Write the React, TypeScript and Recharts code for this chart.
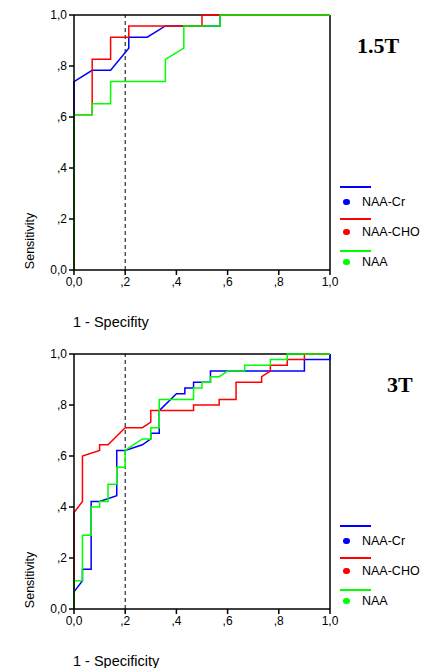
import React from "react";
import { LineChart, Line, XAxis, YAxis, ReferenceLine } from "recharts";

// 1.5T panel (1 - specificity / sensitivity)
const cr15X = [0, 0, 0.071, 0.143, 0.214, 0.214, 0.286, 0.357, 0.571, 0.571, 1];
const cr15Y = [0, 0.739, 0.783, 0.783, 0.87, 0.913, 0.913, 0.957, 0.957, 1, 1];
const cho15X = [0, 0, 0.071, 0.071, 0.143, 0.143, 0.214, 0.214, 0.5, 0.5, 1];
const cho15Y = [0, 0.609, 0.609, 0.826, 0.826, 0.913, 0.913, 0.957, 0.957, 1, 1];
const naa15X = [0, 0, 0.071, 0.071, 0.143, 0.143, 0.357, 0.357, 0.429, 0.429, 0.571, 0.571, 1];
const naa15Y = [0, 0.609, 0.609, 0.652, 0.652, 0.739, 0.739, 0.826, 0.87, 0.957, 0.957, 1, 1];

// 3T panel
const cr3X = [0, 0, 0.033, 0.033, 0.067, 0.067, 0.1, 0.167, 0.167, 0.2, 0.267, 0.3, 0.3, 0.333, 0.333, 0.4, 0.433, 0.433, 0.467, 0.467, 0.533, 0.533, 0.9, 0.9, 1, 1];
const cr3Y = [0, 0.067, 0.111, 0.156, 0.156, 0.422, 0.422, 0.444, 0.622, 0.622, 0.644, 0.667, 0.689, 0.689, 0.778, 0.844, 0.844, 0.867, 0.867, 0.889, 0.889, 0.933, 0.933, 0.978, 0.978, 1];
const cho3X = [0, 0, 0.033, 0.033, 0.1, 0.1, 0.133, 0.2, 0.267, 0.3, 0.3, 0.467, 0.467, 0.567, 0.567, 0.633, 0.633, 0.733, 0.733, 0.767, 0.767, 0.833, 0.833, 0.9, 0.9, 1];
const cho3Y = [0, 0.378, 0.422, 0.6, 0.622, 0.644, 0.644, 0.711, 0.711, 0.733, 0.778, 0.778, 0.8, 0.8, 0.822, 0.822, 0.889, 0.889, 0.911, 0.933, 0.956, 0.956, 0.978, 0.978, 1, 1];
const naa3X = [0, 0, 0.033, 0.033, 0.067, 0.067, 0.1, 0.1, 0.133, 0.133, 0.167, 0.167, 0.2, 0.2, 0.267, 0.3, 0.3, 0.333, 0.333, 0.467, 0.467, 0.5, 0.5, 0.533, 0.533, 0.567, 0.6, 0.667, 0.667, 0.767, 0.767, 0.833, 0.833, 1];
const naa3Y = [0, 0.111, 0.111, 0.289, 0.289, 0.4, 0.4, 0.422, 0.422, 0.489, 0.489, 0.556, 0.556, 0.622, 0.667, 0.667, 0.711, 0.711, 0.822, 0.822, 0.867, 0.867, 0.889, 0.889, 0.911, 0.911, 0.933, 0.933, 0.956, 0.956, 0.978, 0.978, 1, 1];

const ticks = [0, 0.2, 0.4, 0.6, 0.8, 1];
const seriesNames = ["NAA-Cr", "NAA-CHO", "NAA"];
const colors = ["#0000ff", "#ff0000", "#00ff00"];

const FONT = "'Liberation Sans', Arial, sans-serif";

const fmt = (v: number) => {
  if (v === 0) return "0,0";
  if (v === 1) return "1,0";
  return "," + Math.round(v * 10);
};

const toPts = (xs: number[], ys: number[]) => xs.map((x, i) => ({ x, y: ys[i] }));

function Panel({
  top,
  title,
  titleLeft,
  xLabel,
  series,
}: {
  top: number;
  title: string;
  titleLeft: number;
  xLabel: string;
  series: { x: number; y: number }[][];
}) {
  const tickStyle = { fontSize: 12, fill: "#000", fontFamily: FONT };
  return (
    <div style={{ position: "absolute", left: 0, top, width: 432, height: 329 }}>
      <LineChart width={432} height={329} margin={{ top: 15, right: 102, left: 40, bottom: 29 }}>
        <XAxis
          type="number"
          dataKey="x"
          domain={[0, 1]}
          ticks={ticks}
          tickFormatter={fmt}
          tick={tickStyle}
          tickSize={5}
          height={30}
          stroke="#000"
          strokeWidth={1.5}
          interval={0}
        />
        <YAxis
          type="number"
          dataKey="y"
          domain={[0, 1]}
          ticks={ticks}
          tickFormatter={fmt}
          tick={tickStyle}
          tickSize={5}
          width={34}
          stroke="#000"
          strokeWidth={1.5}
          interval={0}
        />
        <ReferenceLine y={1} stroke="#000" strokeWidth={1.5} />
        <ReferenceLine x={1} stroke="#000" strokeWidth={1.5} />
        <ReferenceLine x={0.2} stroke="#000" strokeDasharray="4 3" />
        {series.map((pts, i) => (
          <Line
            key={seriesNames[i]}
            data={pts}
            dataKey="y"
            name={seriesNames[i]}
            type="linear"
            stroke={colors[i]}
            strokeWidth={1.5}
            dot={false}
            isAnimationActive={false}
          />
        ))}
      </LineChart>
      <div
        style={{
          position: "absolute",
          left: titleLeft,
          top: 33,
          fontFamily: "'Liberation Serif', 'Times New Roman', serif",
          fontWeight: "bold",
          fontSize: 22,
          lineHeight: "26px",
        }}
      >
        {title}
      </div>
      <div
        style={{
          position: "absolute",
          left: 73,
          top: 317,
          fontFamily: FONT,
          fontSize: 14.5,
          lineHeight: "11px",
          whiteSpace: "nowrap",
        }}
      >
        {xLabel}
      </div>
      <div
        style={{
          position: "absolute",
          left: 30,
          top: 241,
          transform: "translate(-50%, -50%) rotate(-90deg)",
          fontFamily: FONT,
          fontSize: 12.5,
          lineHeight: "14px",
          whiteSpace: "nowrap",
        }}
      >
        Sensitivity
      </div>
      {seriesNames.map((name, i) => (
        <div key={name}>
          <div
            style={{
              position: "absolute",
              left: 340,
              top: 186 + i * 32,
              width: 31,
              height: 1.5,
              background: colors[i],
            }}
          />
          <div
            style={{
              position: "absolute",
              left: 343,
              top: 199 + i * 30,
              width: 7,
              height: 6,
              borderRadius: 3,
              background: colors[i],
            }}
          />
          <div
            style={{
              position: "absolute",
              left: 362,
              top: 194 + i * 30,
              fontFamily: FONT,
              fontSize: 12.5,
              lineHeight: "16px",
              whiteSpace: "nowrap",
            }}
          >
            {name}
          </div>
        </div>
      ))}
    </div>
  );
}

export default function App() {
  return (
    <div style={{ position: "absolute", left: 0, top: 0, width: 432, height: 668, background: "#fff" }}>
      <Panel
        top={0}
        title="1.5T"
        titleLeft={357}
        xLabel="1 - Specifity"
        series={[toPts(cr15X, cr15Y), toPts(cho15X, cho15Y), toPts(naa15X, naa15Y)]}
      />
      <Panel
        top={339}
        title="3T"
        titleLeft={387}
        xLabel="1 - Specificity"
        series={[toPts(cr3X, cr3Y), toPts(cho3X, cho3Y), toPts(naa3X, naa3Y)]}
      />
    </div>
  );
}
